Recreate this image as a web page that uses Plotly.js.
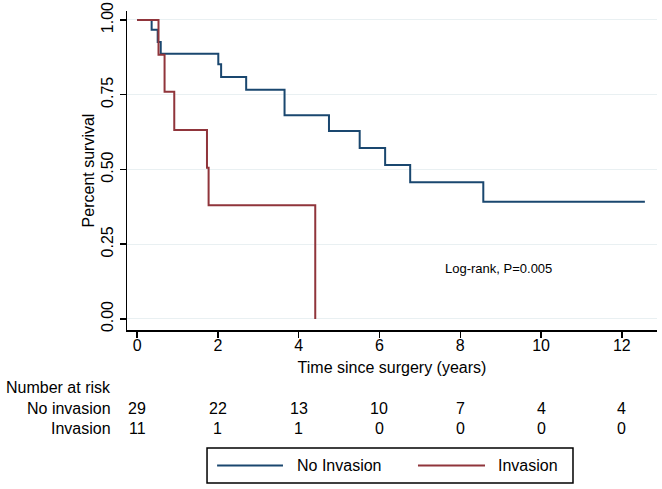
<!DOCTYPE html>
<html>
<head>
<meta charset="utf-8">
<script src="https://cdn.plot.ly/plotly-3.0.1.min.js"></script>
<style>
html,body{margin:0;padding:0;background:#fff;}
#chart{width:662px;height:489px;}
</style>
</head>
<body>
<div id="chart"></div>
<script>
// Kaplan-Meier step data
const noInvTime = [0, 0.36, 0.51, 0.585, 2.01, 2.08, 2.70, 3.65, 4.75, 5.51, 6.14, 6.76, 8.57, 12.57];
const noInvSurv = [1, 0.967, 0.926, 0.887, 0.852, 0.809, 0.767, 0.681, 0.629, 0.572, 0.515, 0.457, 0.392, 0.392];
const invTime = [0, 0.53, 0.68, 0.92, 1.73, 1.77, 4.41];
const invSurv = [1, 0.884, 0.760, 0.632, 0.506, 0.380, 0];

// Number at risk table
const riskTimes = [0, 2, 4, 6, 8, 10, 12];
const riskNoInv = [29, 22, 13, 10, 7, 4, 4];
const riskInv = [11, 1, 1, 0, 0, 0, 0];
const riskRowLabels = ['No invasion', 'Invasion'];

const seriesNames = ['No Invasion', 'Invasion'];
const yTicks = [0, 0.25, 0.5, 0.75, 1];
const yTickText = ['0.00', '0.25', '0.50', '0.75', '1.00'];
const xTicks = [0, 2, 4, 6, 8, 10, 12];

const blue = '#1a476f';
const red = '#90353b';
const FONT = 'Liberation Sans, Arial, Helvetica, sans-serif';

const traces = [
  {x: noInvTime, y: noInvSurv, type: 'scatter', mode: 'lines', line: {shape: 'hv', color: blue, width: 2}, name: seriesNames[0]},
  {x: invTime, y: invSurv, type: 'scatter', mode: 'lines', line: {shape: 'hv', color: red, width: 2}, name: seriesNames[1]}
];

const annotations = [];
annotations.push({xref: 'x', yref: 'y', x: 8.95, y: 0.17, text: 'Log-rank, P=0.005', showarrow: false, font: {size: 13, color: '#000', family: FONT}});
annotations.push({xref: 'paper', yref: 'paper', x: -0.232, y: -0.179, xanchor: 'left', yanchor: 'middle', text: 'Number at risk', showarrow: false, font: {size: 16, color: '#000', family: FONT}});
const rowsY = [-0.245, -0.308];
const rows = [riskNoInv, riskInv];
riskRowLabels.forEach((lab, r) => {
  annotations.push({xref: 'paper', yref: 'paper', x: -0.027, y: rowsY[r], xanchor: 'right', yanchor: 'middle', text: lab, showarrow: false, font: {size: 16, color: '#000', family: FONT}});
  riskTimes.forEach((t, i) => {
    annotations.push({xref: 'x', yref: 'paper', x: t, y: rowsY[r], xanchor: 'center', yanchor: 'middle', text: String(rows[r][i]), showarrow: false, font: {size: 16, color: '#000', family: FONT}});
  });
});

// Legend (boxed, below the risk table)
const legY = -0.425;
const legSamples = [[0.170, 0.2943, blue], [0.549, 0.6755, red]];
const legTextX = [0.317, 0.696];
const shapes = [
  {type: 'rect', xref: 'paper', yref: 'paper', x0: 0.151, x1: 0.8415, y0: -0.370, y1: -0.480, line: {color: '#000', width: 1.5}, fillcolor: '#fff'}
];
legSamples.forEach((s, i) => {
  shapes.push({type: 'line', xref: 'paper', yref: 'paper', x0: s[0], x1: s[1], y0: legY, y1: legY, line: {color: s[2], width: 2}});
  annotations.push({xref: 'paper', yref: 'paper', x: legTextX[i], y: legY, xanchor: 'left', yanchor: 'middle', text: seriesNames[i], showarrow: false, font: {size: 16, color: '#000', family: FONT}});
});

const layout = {
  width: 662, height: 489,
  margin: {l: 127, r: 5, t: 11, b: 159},
  paper_bgcolor: '#fff', plot_bgcolor: '#fff',
  font: {family: FONT, size: 16, color: '#000'},
  showlegend: false,
  xaxis: {
    range: [-0.25, 12.87], tickvals: xTicks, ticks: 'outside', ticklen: 6, tickwidth: 1.5, tickcolor: '#000',
    showline: true, linecolor: '#000', linewidth: 1.5, showgrid: false, zeroline: false,
    ticklabelstandoff: -6,
    tickfont: {size: 16}, title: {text: 'Time since surgery (years)', font: {size: 16}, standoff: 9}
  },
  yaxis: {
    range: [-0.037, 1.030], tickvals: yTicks, ticktext: yTickText, tickangle: -90,
    ticks: 'outside', ticklen: 6, tickwidth: 1.5, tickcolor: '#000',
    showline: true, linecolor: '#000', linewidth: 1.5, showgrid: true, gridcolor: '#e9f0f2', gridwidth: 1, zeroline: false,
    tickfont: {size: 16}, title: {text: 'Percent survival', font: {size: 16}, standoff: 0}
  },
  shapes: shapes,
  annotations: annotations
};

Plotly.newPlot('chart', traces, layout, {displayModeBar: false, staticPlot: true});
</script>
</body>
</html>
